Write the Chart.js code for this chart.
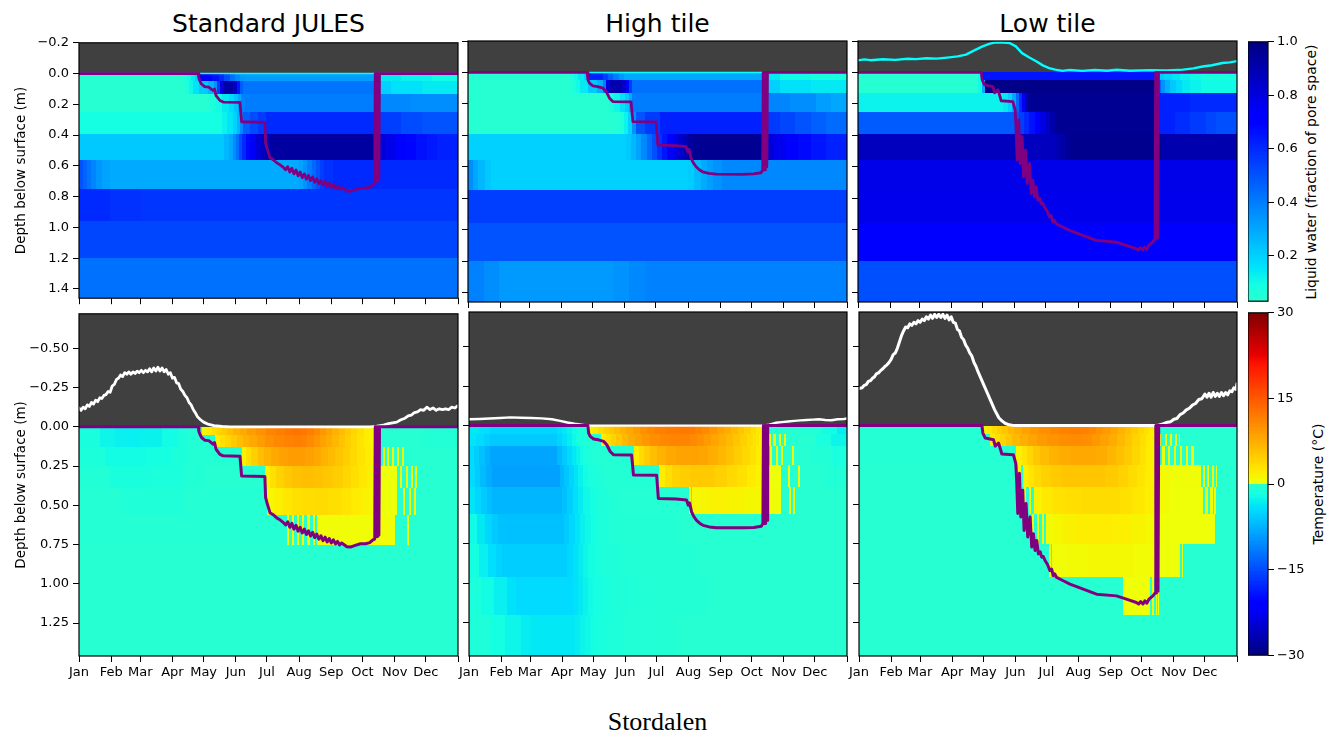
<!DOCTYPE html>
<html>
<head>
<meta charset="utf-8">
<title>Stordalen soil profiles</title>
<script src="https://cdn.jsdelivr.net/npm/chart.js"></script>
<style>
  html, body { margin: 0; padding: 0; background: #fff; }
  #fig { position: relative; width: 1339px; height: 738px; overflow: hidden;
         font-family: "DejaVu Sans", sans-serif; color: #000; }
  #fig canvas { position: absolute; }
  .title { position: absolute; font-size: 25px; line-height: 1; white-space: nowrap; transform: translateX(-50%); }
  .cbtitle { position: absolute; font-size: 14px; line-height: 1; white-space: nowrap;
             transform: translate(-50%, -50%) rotate(-90deg); }
  .caption { position: absolute; font-family: "Liberation Serif", "Times New Roman", serif;
             font-size: 26px; line-height: 1; white-space: nowrap; transform: translateX(-50%); }
</style>
</head>
<body>
<div id="fig">
  <div class="title" style="left:268.5px; top:11px;">Standard JULES</div>
  <div class="title" style="left:657.5px; top:11px;">High tile</div>
  <div class="title" style="left:1047.5px; top:11px;">Low tile</div>
  <div class="cbtitle" style="left:1311px; top:171.5px;">Liquid water (fraction of pore space)</div>
  <div class="cbtitle" style="left:1318px; top:484px;">Temperature (°C)</div>
  <div class="caption" style="left:657.5px; top:709px;">Stordalen</div>
</div>
<script>
// ---------- axes ----------
const MONTH_DAYS = [0, 31, 59, 90, 120, 151, 181, 212, 243, 273, 304, 334, 365];
const MONTH_LABELS = ['Jan', 'Feb', 'Mar', 'Apr', 'May', 'Jun', 'Jul', 'Aug', 'Sep', 'Oct', 'Nov', 'Dec', ''];
const LAYER_EDGES = [0, 0.05, 0.13, 0.25, 0.39, 0.56, 0.75, 0.96, 1.20, 1.46];
const TOP_DEPTH_TICKS = [-0.2, 0, 0.2, 0.4, 0.6, 0.8, 1.0, 1.2, 1.4];
const TOP_DEPTH_LABELS = ['\u22120.2', '0.0', '0.2', '0.4', '0.6', '0.8', '1.0', '1.2', '1.4'];
const BOTTOM_DEPTH_TICKS = [-0.5, -0.25, 0, 0.25, 0.5, 0.75, 1.0, 1.25];
const BOTTOM_DEPTH_LABELS = ['\u22120.50', '\u22120.25', '0.00', '0.25', '0.50', '0.75', '1.00', '1.25'];
const LIQUID_TICKS = [0.2, 0.4, 0.6, 0.8, 1.0];
const LIQUID_LABELS = ['0.2', '0.4', '0.6', '0.8', '1.0'];
const TEMP_TICKS = [-30, -15, 0, 15, 30];
const TEMP_LABELS = ['\u221230', '\u221215', '0', '15', '30'];

// ---------- thaw depth [day, m] ----------
const thawStandard = [[0,0],[114.8,0],[115.5,0.03],[116.4,0.047],[118,0.068],[121,0.085],[125,0.088],[129,0.11],[130.5,0.1],
  [132,0.143],[135.7,0.175],[138.9,0.185],[155,0.187],[156.6,0.313],[179,0.317],[179.7,0.45],[181,0.483],[183.9,0.547],
  [187,0.56],[190.4,0.58],[193,0.59],[196.8,0.61],[199,0.625],[201,0.605],[203,0.64],[205,0.615],[207,0.652],[209,0.627],
  [211,0.665],[213,0.64],[215,0.676],[217,0.652],[219,0.686],[221,0.662],[223,0.696],[225,0.672],[227,0.706],[229,0.683],
  [231,0.716],[233,0.694],[235,0.725],[237,0.703],[239,0.733],[241,0.712],[243,0.74],[245,0.72],[247,0.746],[249,0.73],
  [251,0.752],[253,0.74],[258,0.764],[262,0.765],[266,0.755],[271,0.745],[276,0.745],[280,0.738],[283,0.72],[284.8,0.715],
  [285.3,0],[286,0.7],[286.7,0],[287.4,0.7],[288.1,0],[288.8,0.69],[289.4,0],[365,0]];
const thawHigh = [[0,0],[114.8,0],[115.5,0.047],[117,0.068],[120.3,0.085],[125,0.09],[130,0.1],[133,0.121],[136.3,0.164],
  [139.5,0.185],[157,0.187],[158.8,0.313],[181.2,0.315],[182.8,0.462],[200,0.465],[210,0.472],[211.7,0.504],[213,0.49],
  [214.9,0.547],[217,0.575],[219.7,0.6],[223,0.62],[226,0.632],[232,0.642],[239,0.647],[264.6,0.648],[275,0.645],
  [282.2,0.638],[283.8,0.62],[284.3,0],[285,0.62],[285.7,0],[286.4,0.62],[287.1,0],[287.8,0.6],[288.4,0],[365,0]];
const thawLow = [[0,0],[118.7,0],[119.6,0.047],[121.9,0.079],[129.9,0.09],[131.5,0.13],[134.7,0.11],[136.3,0.143],
  [137.9,0.18],[149.1,0.185],[151.4,0.24],[152.3,0.36],[153.3,0.557],[154.9,0.302],[156.2,0.579],[158.1,0.409],
  [159.4,0.664],[161.3,0.494],[162.9,0.706],[165.2,0.579],[166.8,0.77],[168.4,0.685],[170,0.791],[171.6,0.728],
  [173.2,0.813],[175,0.8],[176.4,0.834],[178,0.83],[179.6,0.855],[182,0.88],[184.4,0.919],[186,0.91],[187.6,0.951],
  [189,0.94],[190.8,0.962],[197.2,0.983],[203.7,1.004],[216.5,1.036],[229.3,1.068],[248.6,1.079],[258.2,1.1],
  [267.8,1.121],[270,1.13],[272,1.115],[274.2,1.13],[276,1.11],[278,1.125],[280,1.1],[283.8,1.079],[286,1.06],
  [286.6,0],[287.3,1.06],[288,0],[288.7,1.05],[289.4,0],[365,0]];

// ---------- snow depth above the surface [day, m] (negative = above) ----------
const snowStandard = [[0,-0.12],[2,-0.105],[4,-0.125],[6,-0.115],[8,-0.14],[10,-0.13],[12,-0.155],[14,-0.145],[16,-0.17],
  [18,-0.16],[20,-0.185],[22,-0.18],[24,-0.2],[26,-0.205],[28,-0.225],[30,-0.22],[32,-0.26],[34,-0.27],[36,-0.3],
  [38,-0.31],[40,-0.33],[42,-0.32],[44,-0.345],[46,-0.335],[48,-0.35],[50,-0.335],[52,-0.35],[54,-0.34],[56,-0.355],
  [58,-0.345],[60,-0.36],[62,-0.345],[64,-0.36],[66,-0.35],[68,-0.37],[70,-0.35],[72,-0.375],[74,-0.355],[76,-0.38],
  [78,-0.355],[80,-0.375],[82,-0.35],[84,-0.365],[86,-0.335],[88,-0.345],[90,-0.31],[92,-0.315],[94,-0.28],[96,-0.275],
  [98,-0.24],[100,-0.225],[102,-0.2],[104,-0.185],[106,-0.155],[108,-0.14],[110,-0.11],[112,-0.09],[114,-0.065],
  [117,-0.045],[120,-0.03],[125,-0.015],[130,-0.007],[138,-0.002],[145,0],[280,0],[286,-0.003],[290,-0.008],[294,-0.012],
  [298,-0.02],[302,-0.025],[306,-0.03],[310,-0.045],[314,-0.055],[317,-0.07],[320,-0.075],[323,-0.09],[326,-0.095],
  [329,-0.11],[332,-0.105],[335,-0.125],[338,-0.11],[341,-0.12],[344,-0.105],[347,-0.115],[350,-0.11],[353,-0.115],
  [356,-0.11],[359,-0.125],[362,-0.12],[365,-0.135]];
const snowHigh = [[0,-0.04],[10,-0.042],[20,-0.045],[30,-0.048],[40,-0.052],[50,-0.05],[60,-0.048],[70,-0.046],[80,-0.04],
  [88,-0.03],[95,-0.02],[102,-0.012],[110,-0.005],[116,0],[284,0],[290,-0.006],[296,-0.018],[302,-0.022],[308,-0.026],
  [314,-0.03],[320,-0.033],[326,-0.036],[332,-0.038],[338,-0.04],[344,-0.036],[350,-0.034],[356,-0.04],[362,-0.042],[365,-0.045]];
const snowLow = [[0,-0.235],[3,-0.24],[5,-0.255],[7,-0.26],[9,-0.28],[11,-0.285],[13,-0.3],[15,-0.31],[17,-0.33],[19,-0.335],
  [21,-0.35],[23,-0.36],[25,-0.375],[27,-0.385],[29,-0.4],[31,-0.42],[33,-0.45],[35,-0.46],[37,-0.49],[39,-0.53],[41,-0.57],
  [43,-0.6],[45,-0.625],[47,-0.62],[49,-0.645],[51,-0.635],[53,-0.655],[55,-0.645],[57,-0.665],[59,-0.655],[61,-0.675],
  [63,-0.665],[65,-0.69],[67,-0.675],[69,-0.7],[71,-0.68],[73,-0.705],[75,-0.685],[77,-0.705],[79,-0.685],[81,-0.705],
  [83,-0.68],[85,-0.7],[87,-0.67],[89,-0.69],[91,-0.655],[93,-0.65],[95,-0.61],[97,-0.6],[99,-0.56],[101,-0.545],
  [103,-0.51],[105,-0.49],[107,-0.46],[109,-0.44],[111,-0.4],[113,-0.375],[115,-0.34],[117,-0.31],[119,-0.28],[121,-0.25],
  [123,-0.22],[125,-0.19],[127,-0.16],[129,-0.13],[131,-0.1],[133,-0.075],[135,-0.05],[138,-0.03],[141,-0.015],
  [145,-0.005],[150,0],[286,0],[290,-0.004],[294,-0.012],[298,-0.022],[301,-0.025],[304,-0.04],[307,-0.045],[310,-0.07],
  [313,-0.08],[316,-0.1],[319,-0.11],[322,-0.13],[325,-0.14],[328,-0.165],[331,-0.17],[334,-0.2],[336,-0.18],[338,-0.205],
  [340,-0.18],[342,-0.21],[344,-0.185],[346,-0.205],[348,-0.185],[350,-0.21],[352,-0.19],[354,-0.21],[356,-0.195],
  [358,-0.22],[360,-0.215],[362,-0.24],[364,-0.23],[365,-0.265]];

// ---------- surface water level [day, m] ----------
const waterStandard = [[0,0],[365,0]];
const waterHigh = [[0,0],[365,0]];
const waterLow = [[0,-0.077],[6,-0.083],[12,-0.078],[24,-0.084],[36,-0.08],[48,-0.087],[56,-0.085],[66,-0.09],[76,-0.088],
  [88,-0.096],[96,-0.102],[104,-0.113],[112,-0.14],[120,-0.166],[127,-0.183],[133,-0.191],[140,-0.19],[146,-0.187],
  [152,-0.166],[158,-0.123],[165,-0.095],[172,-0.07],[178,-0.045],[184,-0.028],[190,-0.018],[197,-0.01],[204,-0.016],
  [216,-0.01],[228,-0.016],[240,-0.011],[249,-0.017],[262,-0.011],[281,-0.015],[297,-0.012],[313,-0.018],[323,-0.026],
  [332,-0.038],[341,-0.046],[351,-0.06],[358,-0.064],[365,-0.072]];

// ---------- liquid water per soil layer: [start day, fraction of pore space] ----------
const liquidStandard = [
  [[0,0.04],[100,0.07],[104,0.1],[108,0.14],[112,0.2],[116,0.72],[128,0.66],[135,0.6],[140,0.52],[145,0.43],[150,0.37],
   [155,0.33],[160,0.32],[287,0.14],[310,0.12],[340,0.1]],
  [[0,0.04],[102,0.07],[106,0.11],[110,0.16],[116,0.22],[124,0.27],[130,0.35],[133,0.55],[136,0.8],[139,0.92],[148,0.85],
   [152,0.65],[155,0.48],[158,0.42],[287,0.2],[300,0.16],[330,0.14]],
  [[0,0.04],[126,0.07],[132,0.1],[138,0.14],[144,0.18],[149,0.23],[153,0.3],[156,0.38],[160,0.4],[287,0.37],[320,0.36]],
  [[0,0.09],[138,0.12],[143,0.15],[148,0.2],[152,0.27],[155,0.37],[158,0.47],[165,0.52],[172,0.56],[180,0.6],[287,0.55],
   [310,0.52],[330,0.5]],
  [[0,0.22],[140,0.26],[144,0.3],[148,0.36],[151,0.43],[154,0.52],[157,0.6],[161,0.68],[165,0.75],[170,0.82],[175,0.87],
   [180,0.91],[185,0.93],[287,0.82],[295,0.78],[305,0.73],[315,0.69],[325,0.66],[335,0.64],[345,0.62]],
  [[0,0.5],[4,0.46],[8,0.42],[12,0.38],[16,0.34],[22,0.31],[30,0.29],[212,0.31],[216,0.35],[220,0.4],[224,0.45],[228,0.5],
   [232,0.55],[236,0.58],[245,0.6]],
  [[0,0.6],[30,0.58],[60,0.57]],
  [[0,0.53]],
  [[0,0.43]]
];
const liquidHigh = [
  [[0,0.04],[98,0.07],[102,0.1],[106,0.14],[112,0.2],[116,0.62],[130,0.55],[135,0.47],[140,0.4],[145,0.34],[150,0.3],
   [284,0.14],[300,0.1],[330,0.08]],
  [[0,0.04],[100,0.07],[104,0.1],[108,0.14],[116,0.22],[124,0.28],[130,0.4],[133,0.8],[137,0.9],[148,0.85],[152,0.7],
   [155,0.55],[158,0.43],[284,0.2],[300,0.16],[330,0.14]],
  [[0,0.04],[136,0.07],[141,0.11],[146,0.16],[151,0.21],[155,0.3],[158,0.4],[284,0.38],[310,0.36],[335,0.32],[350,0.3]],
  [[0,0.04],[146,0.07],[150,0.12],[154,0.2],[158,0.35],[162,0.5],[170,0.56],[185,0.62],[284,0.56],[300,0.53],[315,0.5],
   [330,0.47],[345,0.44]],
  [[0,0.2],[152,0.22],[157,0.26],[162,0.31],[167,0.37],[172,0.44],[177,0.51],[182,0.58],[187,0.65],[192,0.72],[197,0.78],
   [202,0.84],[207,0.89],[212,0.93],[217,0.96],[287,0.82],[295,0.77],[305,0.72],[318,0.68],[330,0.65],[345,0.62]],
  [[0,0.36],[5,0.3],[10,0.26],[16,0.22],[22,0.2],[212,0.21],[218,0.25],[224,0.29],[230,0.32],[236,0.35],[245,0.37]],
  [[0,0.55]],
  [[0,0.5]],
  [[0,0.39],[15,0.36],[30,0.33],[140,0.35],[155,0.37],[170,0.39]]
];
const liquidLow = [
  [[0,0.04],[116,0.1],[119,0.65],[286,0.28],[290,0.22],[295,0.18],[302,0.15],[310,0.12],[320,0.1],[330,0.08]],
  [[0,0.04],[116,0.1],[119,0.3],[122,0.98],[286,0.55],[289,0.45],[292,0.35],[296,0.28],[300,0.22],[306,0.18],[312,0.14],
   [320,0.12],[330,0.1]],
  [[0,0.12],[140,0.14],[144,0.2],[148,0.3],[152,0.45],[155,0.6],[158,0.75],[161,0.88],[164,0.96],[287,0.62],[320,0.6]],
  [[0,0.48],[150,0.5],[155,0.55],[160,0.6],[165,0.66],[170,0.72],[175,0.79],[180,0.85],[185,0.91],[190,0.96],[290,0.62],
   [305,0.59],[320,0.56],[335,0.53],[345,0.51]],
  [[0,0.87],[190,0.89],[195,0.92],[200,0.95],[205,0.97],[292,0.9]],
  [[0,0.78]],
  [[0,0.77]],
  [[0,0.72]],
  [[0,0.51]]
];

// ---------- soil temperature per layer: [start day, deg C] ----------
const tempStandard = [
  [[0,-1.5],[20,-2.5],[35,-3],[60,-2.8],[80,-2],[95,-1.2],[105,-0.6],[118,1],[123,2],[128,3],[133,4],[138,5],[143,6],
   [148,7],[155,8],[162,9],[170,10],[180,11],[190,11.7],[198,12.3],[206,12.6],[214,12.3],[220,11.6],[226,10.6],[232,9.5],
   [238,8.4],[244,7.3],[250,6.2],[256,5],[262,4],[268,3],[274,2],[280,1.2],[285,-0.4],[330,-0.6],[350,-0.9]],
  [[0,-1.5],[20,-2.5],[35,-3],[60,-2.8],[80,-2],[95,-1.2],[105,-0.6],[131,2],[136,3],[141,4],[146,5],[152,6],[158,7],
   [164,8],[171,9],[179,10],[188,10.8],[197,11.3],[206,11.5],[214,11.2],[220,10.5],[226,9.6],[232,8.6],[238,7.6],
   [244,6.6],[250,5.6],[256,4.6],[262,3.7],[268,2.8],[274,2],[280,1.2],[286,-0.4],[330,-0.6]],
  [[0,-1.2],[25,-2],[65,-1.8],[90,-1.2],[105,-0.6],[156.6,1.5],[161,3],[166,4.5],[172,6],[178,7],[185,8],[193,8.6],
   [201,9],[210,9],[218,8.6],[226,7.9],[233,7.1],[240,6.3],[247,5.5],[254,4.6],[261,3.7],[268,2.8],[275,2],[281,1.2],
   [286,-0.4],[293,0.3],[295,-0.4],[297,0.3],[299,-0.4],[301,0.3],[303,-0.4],[306,0.3],[308,-0.4],[311,0.3],[313,-0.4]],
  [[0,-0.8],[30,-1.5],[70,-1.3],[100,-0.7],[120,-0.4],[179,1.5],[184,3],[190,4.2],[197,5.2],[205,5.8],[215,6],[225,5.8],
   [235,5.3],[245,4.7],[254,4],[262,3.2],[270,2.4],[277,1.6],[282,1],[286,0.3],[306,-0.4],[309,0.3],[311,-0.4],[315,0.3],
   [317,-0.4],[320,0.3],[322,-0.4],[324,0.3],[325.5,-0.4]],
  [[0,-0.5],[40,-0.9],[100,-0.5],[181,1],[188,1.8],[196,2.5],[205,3],[215,3.4],[228,3.5],[240,3.2],[252,2.7],[262,2.1],
   [272,1.5],[280,1],[286,0.3],[306,-0.4],[312,0.3],[314,-0.4],[318,0.3],[320,-0.4],[323,0.3],[325,-0.4]],
  [[0,-0.5],[200,0.5],[202,-0.4],[205,0.5],[207,-0.4],[210,0.5],[212,-0.4],[215,0.5],[217,-0.4],[220,0.5],[222,-0.4],
   [225,0.5],[227,-0.4],[229,0.6],[304.5,-0.4],[316,0.3],[318,-0.4]],
  [[0,-0.4]],
  [[0,-0.4]],
  [[0,-0.4]]
];
const tempHigh = [
  [[0,-3.5],[10,-4.2],[20,-4.8],[85,-4.2],[90,-3.5],[95,-2.8],[99,-2.2],[103,-1.6],[107,-1.1],[110,-0.8],[115.5,1.5],
   [120,2.5],[125,3.5],[130,4.4],[135,5.2],[140,6],[146,7],[152,8],[158,9],[165,10],[172,10.8],[180,11.5],[190,12],
   [200,12.2],[210,12],[218,11.4],[225,10.6],[232,9.6],[239,8.6],[246,7.6],[253,6.5],[260,5.4],[266,4.4],[272,3.4],
   [277,2.4],[281,1.5],[284,-0.4],[320,-0.8],[340,-2],[355,-3.2]],
  [[0,-3.8],[7,-4.5],[14,-5.2],[20,-5.8],[85,-5],[90,-4.1],[95,-3.2],[99,-2.4],[103,-1.8],[107,-1.2],[110,-0.8],[127,2],
   [132,3.2],[137,4.3],[142,5.3],[148,6.5],[154,7.6],[160,8.5],[167,9.4],[175,10.2],[184,10.8],[194,11.1],[204,11.1],
   [213,10.7],[220,10],[227,9.2],[234,8.3],[241,7.4],[248,6.4],[255,5.4],[262,4.4],[268,3.5],[274,2.6],[280,1.6],
   [286,-0.4],[290,0.3],[292,-0.4],[294,0.3],[296,-0.4],[299,0.3],[301,-0.4],[304,0.3],[306,-0.4],[335,-1.4],[350,-2.6]],
  [[0,-4.5],[5,-5.5],[10,-6.5],[15,-7.5],[20,-8.5],[85,-7],[90,-5.8],[95,-4.6],[99,-3.6],[103,-2.8],[107,-2],[110,-1.4],
   [115,-1],[120,-0.6],[159,2],[164,3.5],[169,4.8],[175,6],[182,7],[190,7.9],[200,8.4],[212,8.5],[222,8.2],[231,7.5],
   [240,6.7],[248,5.8],[256,4.8],[264,3.8],[271,2.9],[277,2],[282,1.3],[286,-0.4],[291,0.3],[293,-0.4],[296,0.3],
   [298,-0.4],[301,0.3],[303,-0.4],[312,0.3],[314,-0.4],[330,-0.8],[350,-1.4]],
  [[0,-4.5],[6,-5.6],[11,-6.8],[16,-7.8],[22,-8.8],[88,-7.2],[92,-6.1],[97,-5],[101,-3.9],[105,-2.8],[110,-2],[115,-1.4],
   [122,-1],[130,-0.6],[183,2],[189,3.2],[196,4.2],[204,4.8],[214,5],[226,4.9],[238,4.4],[249,3.7],[259,3],[268,2.2],
   [276,1.5],[283,1],[286,0.3],[301.5,-0.4],[308,0.3],[310,-0.4],[318,0.3],[320,-0.4],[345,-0.8]],
  [[0,-3.8],[6,-4.8],[12,-5.8],[17,-6.6],[22,-7.2],[90,-6.4],[95,-5.3],[100,-4.2],[105,-3.2],[110,-2.4],[117,-1.7],
   [125,-1],[135,-0.7],[145,-0.5],[212,0.8],[214,-0.4],[215,1],[222,1.3],[232,1.5],[250,1.4],[265,1.1],[286,0.5],
   [301,-0.4],[309,0.3],[310.5,-0.4],[313,0.3],[314.5,-0.4]],
  [[0,-2.2],[8,-3.5],[15,-4.8],[22,-5.8],[28,-6.4],[92,-5.6],[97,-4.7],[102,-3.8],[107,-3],[112,-2.3],[118,-1.7],
   [125,-1.1],[135,-0.8],[150,-0.6],[200,-0.4]],
  [[0,-1.8],[10,-3],[18,-4.2],[26,-5],[32,-5.5],[95,-4.7],[100,-4],[105,-3.2],[110,-2.5],[115,-1.9],[122,-1.4],
   [130,-1],[145,-0.8],[165,-0.6],[220,-0.4]],
  [[0,-1.2],[12,-2],[24,-3],[37,-4],[45,-4.5],[100,-4.1],[105,-3.4],[110,-2.8],[115,-2.2],[120,-1.7],[130,-1.3],
   [140,-1],[155,-0.8],[175,-0.6],[230,-0.4]],
  [[0,-1],[20,-1.8],[35,-2.5],[50,-3.2],[60,-3.6],[102,-3.2],[107,-2.7],[112,-2.3],[118,-1.8],[125,-1.4],[135,-1.1],
   [150,-0.8],[170,-0.6],[200,-0.4]]
];
const tempLow = [
  [[0,-0.5],[120,1.5],[124,2.5],[128,3.4],[133,4.4],[138,5.4],[144,6.5],[150,7.5],[157,8.5],[165,9.4],[174,10.2],
   [184,10.9],[194,11.4],[204,11.6],[214,11.4],[222,10.8],[229,10],[236,9.1],[243,8.1],[250,7.1],[257,6],[263,5],
   [269,4],[275,3],[280,2],[285.5,-0.4]],
  [[0,-0.5],[126.7,2],[131,3],[136,4.1],[142,5.3],[148,6.4],[155,7.4],[163,8.3],[172,9.1],[182,9.8],[193,10.3],
   [205,10.5],[216,10.2],[225,9.5],[233,8.6],[241,7.6],[249,6.5],[257,5.4],[264,4.3],[271,3.2],[277,2.2],[282,1.4],
   [287,-0.4],[290,0.3],[292,-0.4],[295,0.3],[297,-0.4],[300,0.3],[302,-0.4],[305,0.3],[307,-0.4],[309,0.3],[310,-0.4]],
  [[0,-0.5],[152,1.5],[157,2.8],[162,4],[168,5.2],[175,6.2],[183,7],[193,7.6],[205,8],[218,8],[229,7.6],[239,6.8],
   [248,5.9],[256,4.9],[264,3.9],[271,2.9],[277,2],[283,1.3],[287,0.3],[290,-0.4],[293,0.3],[295,-0.4],[298,0.3],
   [300,-0.4],[304,0.3],[306,-0.4],[310,0.3],[312,-0.4],[316,0.3],[318,-0.4],[321,0.3],[323,-0.4]],
  [[0,-0.4],[154,0.8],[156,-0.4],[158,1.5],[163,2.6],[169,3.6],[176,4.4],[185,5],[196,5.4],[210,5.5],[224,5.4],[238,5],
   [250,4.3],[260,3.5],[268,2.8],[276,2],[282,1.4],[287,0.8],[300,0.5],[330,-0.4],[332,0.3],[334,-0.4],[336,0.3],
   [338,-0.4],[341,0.3],[343,-0.4],[345,0.3],[346,-0.4]],
  [[0,-0.4],[159,0.8],[161,-0.4],[164,0.8],[166,-0.4],[169,1.5],[177,2.3],[187,2.9],[200,3.3],[215,3.5],[235,3.5],
   [252,3],[265,2.4],[276,1.7],[287,0.8],[300,0.4],[330,0.3],[332,-0.4],[334,0.3],[337,-0.4],[339,0.3],[342,-0.4],
   [343,0.3],[345,-0.4]],
  [[0,-0.4],[167,0.6],[169,-0.4],[172,0.6],[174,-0.4],[177,0.6],[179,-0.4],[181,0.8],[188,1.2],[197,1.6],[210,1.9],
   [225,2],[245,1.8],[262,1.4],[276,1],[290,0.4],[344,-0.4]],
  [[0,-0.4],[183,0.5],[185,-0.4],[186,0.6],[200,0.8],[220,1],[245,0.9],[265,0.7],[290,0.3],[310,-0.4],[312,0.3],[313,-0.4]],
  [[0,-0.4],[255,0.4],[281,-0.4],[283,0.3],[284.5,-0.4],[287,0.3],[288,-0.4],[289,0.3],[290,-0.4]],
  [[0,-0.4]]
];

// ---------- colours ----------
const AIR_COLOR = '#404040';
const THAW_COLOR = '#800080';
const SNOW_COLOR = '#ffffff';
const WATER_COLOR = '#00ffff';

// matplotlib "jet" segment table
const JET = {
  r: [[0,0],[0.35,0],[0.66,1],[0.89,1],[1,0.5]],
  g: [[0,0],[0.125,0],[0.375,1],[0.64,1],[0.91,0],[1,0]],
  b: [[0,0.5],[0.11,1],[0.34,1],[0.65,0],[1,0]]
};
function jetChannel(pts, t) {
  for (let i = 1; i < pts.length; i++) {
    if (t <= pts[i][0]) {
      const [x0, y0] = pts[i - 1], [x1, y1] = pts[i];
      return y0 + (y1 - y0) * (t - x0) / (x1 - x0);
    }
  }
  return pts[pts.length - 1][1];
}
function jet(t) {
  t = Math.min(1, Math.max(0, t));
  const c = k => Math.round(255 * jetChannel(JET[k], t));
  return `rgb(${c('r')},${c('g')},${c('b')})`;
}
const LIQUID_MIN = 0.03, LIQUID_MAX = 1.0;
function liquidColor(v) {
  const f = (v - LIQUID_MIN) / (LIQUID_MAX - LIQUID_MIN);
  return jet(0.4 * (1 - f));
}
function tempColor(T) {
  return T <= 0 ? jet(0.4 * (T + 30) / 30) : jet(0.635 + 0.365 * T / 30);
}

// ---------- figure geometry ----------
const COL_X = [79, 468, 858];
const PANEL_W = 379;
const ROW_Y = [41, 312];
const ROW_H = [261, 344];
const ROW_MIN = [-0.2, -0.72];
const DEPTH_MAX = 1.46;
const CBAR_X = 1248, CBAR_W = 20;

Chart.defaults.font.family = "'DejaVu Sans', sans-serif";
Chart.defaults.font.size = 13;
Chart.defaults.color = '#000';

const fig = document.getElementById('fig');
function addCanvas(left, top, w, h) {
  const c = document.createElement('canvas');
  c.width = w; c.height = h;
  c.style.left = left + 'px'; c.style.top = top + 'px';
  c.style.width = w + 'px'; c.style.height = h + 'px';
  fig.appendChild(c);
  return c;
}

// black frame round the plotting area
const framePlugin = {
  id: 'frame',
  afterDatasetsDraw(chart) {
    const { ctx, chartArea: a } = chart;
    ctx.save();
    ctx.strokeStyle = '#000';
    ctx.lineWidth = 1.2;
    ctx.strokeRect(a.left, a.top, a.right - a.left, a.bottom - a.top);
    ctx.restore();
  }
};

// soil-layer cells plus the dark band above the surface
function soilCells(layers, colorFn) {
  return {
    id: 'soilCells',
    beforeDatasetsDraw(chart) {
      const { ctx, chartArea: a, scales: { x, y } } = chart;
      ctx.save();
      ctx.beginPath();
      ctx.rect(a.left, a.top, a.right - a.left, a.bottom - a.top);
      ctx.clip();
      const ySurf = Math.round(y.getPixelForValue(0));
      ctx.fillStyle = AIR_COLOR;
      ctx.fillRect(a.left, a.top, a.right - a.left, ySurf - a.top);
      layers.forEach((segs, i) => {
        const y0 = Math.round(y.getPixelForValue(LAYER_EDGES[i]));
        const y1 = Math.round(y.getPixelForValue(LAYER_EDGES[i + 1]));
        segs.forEach(([day, val], j) => {
          const end = j + 1 < segs.length ? segs[j + 1][0] : 365;
          const x0 = Math.round(x.getPixelForValue(day));
          const x1 = Math.round(x.getPixelForValue(end));
          ctx.fillStyle = colorFn(val);
          ctx.fillRect(x0, y0, x1 - x0, y1 - y0);
        });
      });
      ctx.restore();
    }
  };
}

// colour strip for a colorbar
function colorStrip(min, max, colorFn) {
  return {
    id: 'colorStrip',
    beforeDatasetsDraw(chart) {
      const { ctx, chartArea: a, scales: { y } } = chart;
      const n = 240;
      ctx.save();
      for (let i = 0; i < n; i++) {
        const v0 = min + (max - min) * i / n, v1 = min + (max - min) * (i + 1) / n;
        const p0 = Math.round(y.getPixelForValue(v0)), p1 = Math.round(y.getPixelForValue(v1));
        ctx.fillStyle = colorFn((v0 + v1) / 2);
        ctx.fillRect(a.left, p1, a.right - a.left, p0 - p1);
      }
      ctx.restore();
    }
  };
}

const tickGrid = { drawOnChartArea: false, drawTicks: true, tickLength: 6, tickWidth: 1, color: '#000' };

function buildPanel(p) {
  const yw = p.col === 0 ? 79 : 12;
  const xh = p.row === 0 ? 8 : 32;
  const padT = 10, padR = 4;
  const cv = addCanvas(COL_X[p.col] - yw, ROW_Y[p.row] - padT, yw + PANEL_W + padR, padT + ROW_H[p.row] + xh);
  const yTicks = p.row === 0 ? TOP_DEPTH_TICKS : BOTTOM_DEPTH_TICKS;
  const yLabels = p.row === 0 ? TOP_DEPTH_LABELS : BOTTOM_DEPTH_LABELS;
  new Chart(cv, {
    type: 'line',
    data: {
      datasets: p.lines.map(l => ({
        data: l.data.map(([d, v]) => ({ x: d, y: v })),
        borderColor: l.color, borderWidth: l.width,
        pointRadius: 0, tension: 0, fill: false,
        borderJoinStyle: 'round', borderCapStyle: 'round'
      }))
    },
    options: {
      responsive: false, animation: false, devicePixelRatio: 1, events: [],
      layout: { padding: { top: padT, right: padR, left: 0, bottom: 0 } },
      plugins: { legend: { display: false }, tooltip: { enabled: false } },
      scales: {
        x: {
          type: 'linear', min: 0, max: 365,
          afterBuildTicks: s => { s.ticks = MONTH_DAYS.map(v => ({ value: v })); },
          afterFit: s => { s.height = xh; },
          ticks: { display: p.row === 1, autoSkip: false, maxRotation: 0, minRotation: 0, padding: 3,
                   callback: (v, i) => MONTH_LABELS[i] },
          grid: tickGrid, border: { display: false }
        },
        y: {
          type: 'linear', reverse: true, min: ROW_MIN[p.row], max: DEPTH_MAX,
          afterBuildTicks: s => { s.ticks = yTicks.map(v => ({ value: v })); },
          afterFit: s => { s.width = yw; },
          ticks: { display: p.col === 0, autoSkip: false, padding: 4, callback: (v, i) => yLabels[i] },
          grid: tickGrid, border: { display: false },
          title: { display: p.col === 0, text: 'Depth below surface (m)', font: { size: 13.5 },
                   padding: { top: 13, bottom: 0 } }
        }
      }
    },
    plugins: [soilCells(p.layers, p.colorFn), framePlugin]
  });
}

function buildColorbar(row, min, max, ticks, labels, colorFn) {
  const padT = 10, padB = 10, yw = 60;
  const cv = addCanvas(CBAR_X, ROW_Y[row] - padT, CBAR_W + yw, padT + ROW_H[row] + padB);
  new Chart(cv, {
    type: 'line',
    data: { datasets: [] },
    options: {
      responsive: false, animation: false, devicePixelRatio: 1, events: [],
      layout: { padding: { top: padT, bottom: padB, left: 0, right: 0 } },
      plugins: { legend: { display: false }, tooltip: { enabled: false } },
      scales: {
        x: { type: 'linear', display: false, min: 0, max: 1 },
        y: {
          type: 'linear', position: 'right', min, max,
          afterBuildTicks: s => { s.ticks = ticks.map(v => ({ value: v })); },
          afterFit: s => { s.width = yw; },
          ticks: { autoSkip: false, padding: 3, callback: (v, i) => labels[i] },
          grid: tickGrid, border: { display: false }
        }
      }
    },
    plugins: [colorStrip(min, max, colorFn), framePlugin]
  });
}

const PANELS = [
  { row: 0, col: 0, layers: liquidStandard, colorFn: liquidColor,
    lines: [{ data: thawStandard, color: THAW_COLOR, width: 2.8 }, { data: waterStandard, color: WATER_COLOR, width: 1.6 }] },
  { row: 0, col: 1, layers: liquidHigh, colorFn: liquidColor,
    lines: [{ data: thawHigh, color: THAW_COLOR, width: 2.8 }, { data: waterHigh, color: WATER_COLOR, width: 1.6 }] },
  { row: 0, col: 2, layers: liquidLow, colorFn: liquidColor,
    lines: [{ data: thawLow, color: THAW_COLOR, width: 2.8 }, { data: waterLow, color: WATER_COLOR, width: 2.4 }] },
  { row: 1, col: 0, layers: tempStandard, colorFn: tempColor,
    lines: [{ data: thawStandard, color: THAW_COLOR, width: 3 }, { data: snowStandard, color: SNOW_COLOR, width: 2.8 }] },
  { row: 1, col: 1, layers: tempHigh, colorFn: tempColor,
    lines: [{ data: thawHigh, color: THAW_COLOR, width: 3 }, { data: snowHigh, color: SNOW_COLOR, width: 2.4 }] },
  { row: 1, col: 2, layers: tempLow, colorFn: tempColor,
    lines: [{ data: thawLow, color: THAW_COLOR, width: 3 }, { data: snowLow, color: SNOW_COLOR, width: 3 }] }
];
PANELS.forEach(buildPanel);
buildColorbar(0, LIQUID_MIN, LIQUID_MAX, LIQUID_TICKS, LIQUID_LABELS, liquidColor);
buildColorbar(1, -30, 30, TEMP_TICKS, TEMP_LABELS, tempColor);
</script>
</body>
</html>
